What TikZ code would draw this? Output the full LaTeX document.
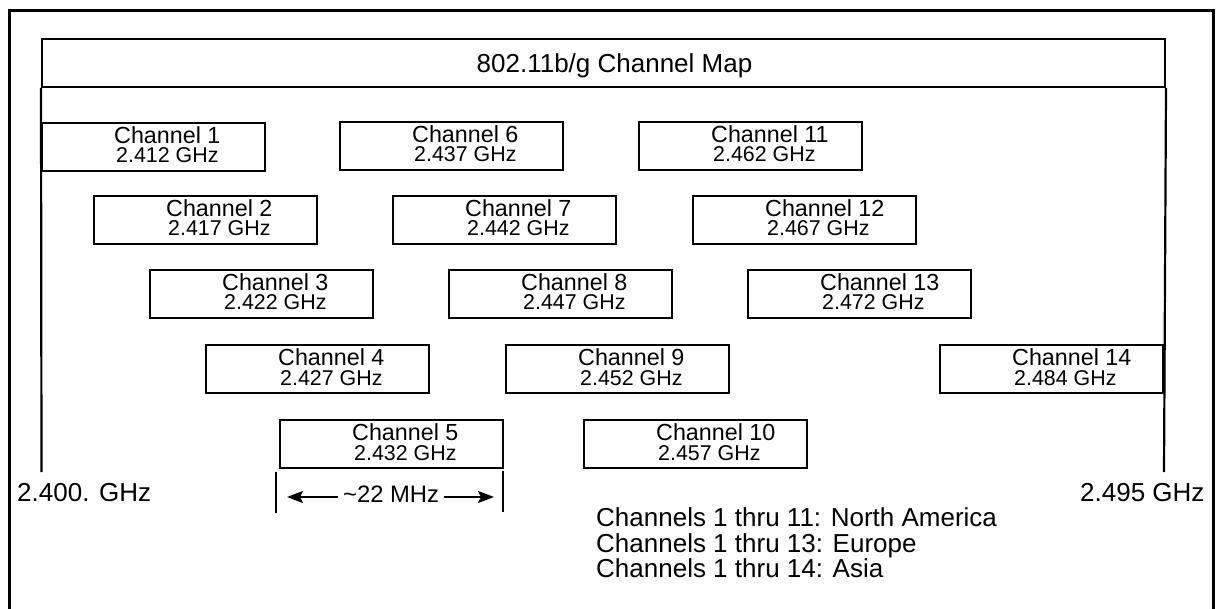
\documentclass[tikz,border=0pt]{standalone}
\usepackage{fontspec}
\setmainfont{Liberation Sans}
\usetikzlibrary{calc,arrows.meta}
\tikzset{
  frame/.style={line width=3pt},
  chbox/.style={draw, line width=2pt, anchor=north west, minimum width=223pt, minimum height=48pt, inner sep=0pt},
  titlebox/.style={draw, line width=2pt, anchor=north west, minimum width=1123pt, minimum height=48pt, inner sep=0pt},
  chtext/.style={anchor=base west, inner sep=0pt, align=left, font=\fontsize{23.3}{19.5}\selectfont},
  bigtext/.style={anchor=base west, inner sep=0pt, font=\fontsize{26}{28}\selectfont},
  vline/.style={line width=2.2pt},
  tick/.style={line width=2.2pt},
  dimarrow/.style={line width=2pt, -{Stealth[length=16pt,width=12pt,inset=3pt]}}
}
\newcommand\chan[4]{%
  \node[chbox] (c#1) at (#2,#3) {};
  \node[chtext] (n#1) at ($(c#1.north west)+(73,41)$) {Channel #1\\{\fontsize{21.4}{19.5}\selectfont\hspace{2pt}#4}};
}
\begin{document}
\begin{tikzpicture}[x=1pt,y=-1pt]
\useasboundingbox (0,0) rectangle (1220,609);
\fill[white] (0,0) rectangle (1220,609);
% outer frame
\draw[frame] (9,612) -- (9,11) -- (1213,11) -- (1213,612);
% title
\node[titlebox] (title) at (41,38) {};
\node[anchor=base, inner sep=0pt, font=\fontsize{26}{28}\selectfont] (titletext) at (614.5,73) {802.11b/g Channel Map};
% side lines
\coordinate (lend) at (41.5,472);
\coordinate (rend) at (1164,472);
\draw[vline] (title.south west) -- (lend);
\draw[vline] (title.south east) -- (rend);
% channels
\chan{1}{41}{122}{2.412 GHz}
\chan{6}{339}{121}{2.437 GHz}
\chan{11}{638}{121}{2.462 GHz}
\chan{2}{93}{195}{2.417 GHz}
\chan{7}{392}{195}{2.442 GHz}
\chan{12}{692}{195}{2.467 GHz}
\chan{3}{149}{269}{2.422 GHz}
\chan{8}{448}{269}{2.447 GHz}
\chan{13}{747}{269}{2.472 GHz}
\chan{4}{205}{344}{2.427 GHz}
\chan{9}{505}{344}{2.452 GHz}
\chan{14}{939}{344}{2.484 GHz}
\chan{5}{279}{419}{2.432 GHz}
\chan{10}{583}{419}{2.457 GHz}
% end labels
\node[bigtext] (lo) at (17,501) {2.400. GHz};
\node[bigtext] (hi) at (1080,501) {2.495 GHz};
% bandwidth marker
\coordinate (tl1) at (276,472);
\coordinate (tl2) at (276,513);
\coordinate (tr1) at (503,471);
\coordinate (tr2) at (503,512);
\draw[tick] (tl1) -- (tl2);
\draw[tick] (tr1) -- (tr2);
\node[anchor=base west, inner sep=0pt, font=\fontsize{23.8}{26}\selectfont] (mhz) at (343,502) {\textasciitilde 22 MHz};
\coordinate (al) at (287,497);
\coordinate (ar) at (494,497);
\draw[dimarrow] (mhz.west |- al) ++(-5,0) -- (al);
\draw[dimarrow] (mhz.east |- ar) ++(5,0) -- (ar);
% notes
\node[bigtext] (na) at (596,526) {Channels 1 thru 11: North America};
\node[bigtext] (eu) at (596,552) {Channels 1 thru 13: Europe};
\node[bigtext] (as) at (596,577) {Channels 1 thru 14: Asia};
\end{tikzpicture}
\end{document}
